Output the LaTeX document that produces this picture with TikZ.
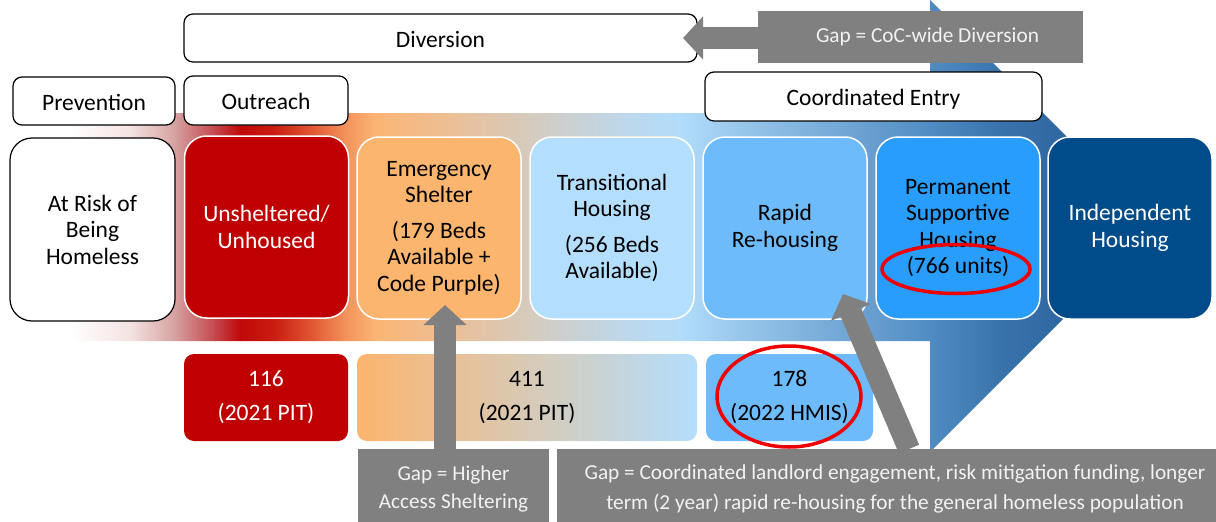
\documentclass[tikz,border=0pt]{standalone}
\usepackage{fontspec}
\setmainfont{Carlito}
\usetikzlibrary{arrows.meta}
\definecolor{redbox}{RGB}{192,0,0}
\definecolor{orangebox}{RGB}{252,181,110}
\definecolor{tbox}{RGB}{180,222,253}
\definecolor{rbox}{RGB}{110,187,252}
\definecolor{pbox}{RGB}{40,157,252}
\definecolor{ibox}{RGB}{0,75,138}
\definecolor{gapgray}{RGB}{128,128,128}
\definecolor{gaptext}{RGB}{242,242,242}
\definecolor{ringred}{RGB}{238,0,0}
\definecolor{midbeige}{RGB}{222,201,176}
\definecolor{g0}{RGB}{255,255,255}
\definecolor{g1}{RGB}{255,255,255}
\definecolor{g2}{RGB}{244,226,226}
\definecolor{g3}{RGB}{214,160,160}
\definecolor{g4}{RGB}{196,70,76}
\definecolor{g5}{RGB}{192,8,8}
\definecolor{g6}{RGB}{202,30,18}
\definecolor{g7}{RGB}{226,88,52}
\definecolor{g8}{RGB}{243,146,92}
\definecolor{g9}{RGB}{251,181,116}
\definecolor{g10}{RGB}{236,191,150}
\definecolor{g11}{RGB}{213,203,190}
\definecolor{g12}{RGB}{193,214,228}
\definecolor{g13}{RGB}{178,221,252}
\definecolor{g14}{RGB}{160,205,240}
\definecolor{g15}{RGB}{130,180,222}
\definecolor{g16}{RGB}{100,155,205}
\definecolor{g17}{RGB}{80,140,195}
\definecolor{g18}{RGB}{58,115,172}
\definecolor{g19}{RGB}{30,85,145}
\newcommand\fsmain{\fontsize{23.5}{26.5}\selectfont}
\newcommand\fsnum{\fontsize{23.5}{34}\selectfont}
\newcommand\fsgapA{\fontsize{21.2}{28}\selectfont}
\newcommand\fsgapB{\fontsize{21.3}{30}\selectfont}
\tikzset{
  whitebox/.style={draw=black, line width=1.2pt, fill=white, rounded corners=9pt, font=\fsmain, inner sep=0pt, text height=18pt, text depth=0pt},
  mainbox/.style={draw=white, line width=1.5pt, rounded corners=22pt, minimum width=164pt, minimum height=182pt, align=center, font=\fsmain, inner sep=0pt},
  numbox/.style={rounded corners=10pt, minimum height=87pt, align=center, font=\fsnum, inner sep=0pt},
  gapbox/.style={fill=gapgray, text=gaptext, align=center, inner sep=0pt},
  gaparrow/.style={draw=gapgray, line width=22pt, -{Triangle[width=42pt,length=20pt]}},
  ring/.style={draw=ringred, line width=3.5pt}
}
\begin{document}
\begin{tikzpicture}[x=1pt,y=-1pt]
\useasboundingbox (0,0) rectangle (1216,522);
\clip (0,0) rectangle (1216,522);
% background process arrow
\begin{scope}
\clip (20,113) -- (930,113) -- (930,0) -- (1156,226) -- (930,452) -- (930,341) -- (20,341) -- cycle;
\foreach \xa/\ca/\xb/\cb in {0/g0/70/g1, 70/g1/130/g2, 130/g2/175/g3, 175/g3/215/g4, 215/g4/240/g5, 240/g5/275/g6, 275/g6/312/g7, 312/g7/345/g8, 345/g8/375/g9, 375/g9/450/g10, 450/g10/530/g11, 530/g11/610/g12, 610/g12/680/g13, 680/g13/720/g14, 720/g14/800/g15, 800/g15/880/g16, 880/g16/930/g17, 930/g17/1000/g18, 1000/g18/1160/g19}
  \shade[left color=\ca, right color=\cb] (\xa,-5) rectangle (\xb+0.7,460);
\end{scope}
% top label boxes
\node[whitebox, minimum width=513pt, minimum height=48pt] (div) at (440.5,38) {Diversion};
\node[whitebox, minimum width=162pt, minimum height=48pt] (prev) at (94,101) {Prevention};
\node[whitebox, minimum width=164pt, minimum height=49pt] (outr) at (266,100.5) {Outreach};
\node[whitebox, minimum width=337pt, minimum height=49pt] (coord) at (873.5,96.5) {Coordinated Entry};
% main stage boxes
\node[mainbox, draw=black, line width=1.2pt, fill=white, minimum width=165pt, minimum height=183pt] (risk) at (92.5,229.5) {At Risk of\\Being\\Homeless};
\node[mainbox, fill=redbox, text=white] (unsh) at (266.5,227) {Unsheltered/\\Unhoused};
\node[mainbox, fill=orangebox] (emer) at (439,228) {Emergency\\Shelter\\[9pt](179 Beds\\Available +\\Code Purple)};
\node[mainbox, fill=tbox] (trans) at (612,228) {Transitional\\Housing\\[9pt](256 Beds\\Available)};
\node[mainbox, fill=rbox] (rapid) at (785,228) {Rapid\\Re-housing};
\node[mainbox, fill=pbox] (psh) at (958,228) {Permanent\\Supportive\\Housing\\(766 units)};
\node[mainbox, fill=ibox, text=white] (indep) at (1130,228) {Independent\\Housing};
% count boxes
\node[numbox, fill=redbox, text=white, minimum width=164pt] (n116) at (266,397.5) {116\\(2021 PIT)};
\node[numbox, left color=orangebox, middle color=midbeige, right color=tbox, minimum width=340pt] (n411) at (527,397.5) {411\\(2021 PIT)};
\node[numbox, fill=rbox, minimum width=167pt] (n178) at (789.5,397.5) {178\\(2022 HMIS)};
% gap boxes
\node[gapbox, font=\fsgapB, minimum width=325pt, minimum height=52pt] (gapC) at (920.5,37) {\hspace*{14pt}Gap = CoC-wide Diversion};
\node[gapbox, font=\fsgapA, minimum width=191pt, minimum height=80pt] (gapA) at (453.5,489) {Gap = Higher\\Access Sheltering};
\node[gapbox, font=\fsgapB, minimum width=676pt, minimum height=80pt] (gapB) at (895,489) {Gap = Coordinated landlord engagement, risk mitigation funding, longer\\term (2 year) rapid re-housing for the general homeless population};
% gap arrows
\coordinate (tipA) at (445,305);
\coordinate (tailB) at (909,449);
\coordinate (tipB) at (843,294);
\coordinate (tipC) at (683,38);
\draw[gaparrow] (gapA.north -| tipA) -- (tipA);
\draw[gaparrow] (tailB) -- (tipB);
\draw[gaparrow] (gapC.west |- tipC) -- (tipC);
% highlight rings
\draw[ring] (956,269) ellipse [x radius=74, y radius=24.5];
\draw[ring] (789,396.5) ellipse [x radius=72, y radius=50.5];
\end{tikzpicture}
\end{document}
